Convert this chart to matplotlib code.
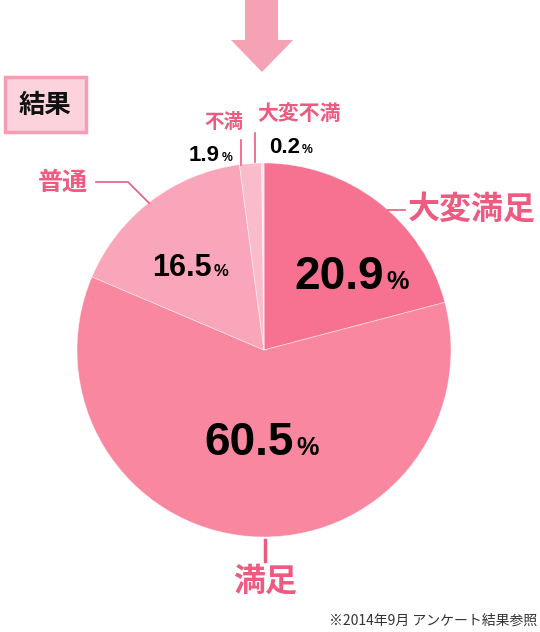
"""Survey result pie chart (2014年9月 アンケート)."""

import matplotlib.pyplot as plt
from matplotlib.patches import Polygon, Rectangle

# --- data -------------------------------------------------------------------
categories = ["大変満足", "満足", "普通", "不満", "大変不満"]
shares = [20.9, 60.5, 16.5, 1.9, 0.2]
slice_colors = ["#f77191", "#f8879f", "#f9a6ba", "#fabccb", "#fde6ec"]

PINK = "#ef5a80"
CJK = ["Noto Sans CJK JP", "DejaVu Sans"]
NUM = ["Liberation Sans", "DejaVu Sans"]

W, H = 540, 632
CX, CY, R = 264, 350, 187

fig = plt.figure(figsize=(W / 100, H / 100), dpi=100)
ax = fig.add_axes([0, 0, 1, 1])

# y axis is flipped below so coordinates read like pixels; in data space that
# makes counterclock=True draw clockwise on screen, starting from 12 o'clock.
ax.pie(shares, colors=slice_colors, startangle=-90, counterclock=True,
       center=(CX, CY), radius=R,
       wedgeprops=dict(edgecolor=(1, 1, 1, 0.5), linewidth=0.6))
ax.set_xlim(0, W)
ax.set_ylim(H, 0)
ax.set_aspect("equal")
ax.axis("off")

# arrow coming down from the previous section
ax.add_patch(Polygon([(245, 0), (278, 0), (278, 40), (293, 40), (262, 72),
                      (231, 40), (245, 40)], closed=True,
                     facecolor="#f6a2b5", edgecolor="none"))

# "結果" tag
ax.add_patch(Rectangle((5, 77), 81, 55, facecolor="#fcd3dd",
                       edgecolor="#f59db2", linewidth=2.5))
ax.text(45, 105, "結果", family=CJK, fontsize=19, fontweight="bold",
        color="#111111", ha="center", va="center")


def pct(x, y, value, size):
    ax.text(x, y, value, family=NUM, fontsize=size, fontweight="bold",
            color="black", ha="right", va="baseline")
    ax.text(x + 2, y, "%", family=NUM, fontsize=size * 0.55,
            fontweight="bold", color="black", ha="left", va="baseline")


def label(x, y, text, size, ha="center"):
    ax.text(x, y, text, family=CJK, fontsize=size, fontweight="bold",
            color=PINK, ha=ha, va="center")


# slice values
pct(384, 289, f"{shares[0]}", 33)
pct(294, 455, f"{shares[1]}", 33)
pct(212, 276, f"{shares[2]}", 22)
pct(220, 161, f"{shares[3]}", 16)
pct(300, 153, f"{shares[4]}", 16)

# category labels with leader lines
label(408, 210, categories[0], 23, ha="left")
ax.plot([388, 405], [210, 210], color=PINK, lw=1.2)

label(265, 582, categories[1], 23)
ax.plot([265, 265], [540, 561], color=PINK, lw=2.5)

label(63, 183, categories[2], 18)
ax.plot([96, 128, 149], [182, 182, 203], color=PINK, lw=1.2)

label(224, 122, categories[3], 14)
ax.plot([241, 241], [140, 165], color=PINK, lw=1.2)

label(299, 113, categories[4], 15)
ax.plot([255, 255], [133, 162], color=PINK, lw=1.2)

ax.text(537, 621, "※2014年9月 アンケート結果参照", family=CJK, fontsize=10,
        color="#333333", ha="right", va="center")

fig.savefig("out.png", dpi=100)
